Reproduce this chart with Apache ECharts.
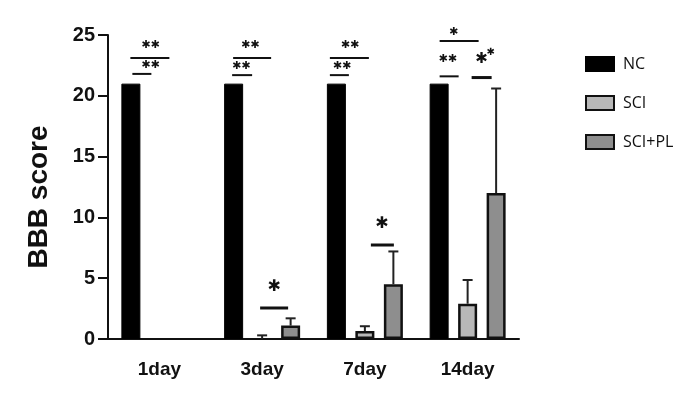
<!DOCTYPE html>
<html><head><meta charset="utf-8">
<script src="https://cdn.jsdelivr.net/npm/echarts@6/dist/echarts.min.js"></script>
<style>html,body{margin:0;padding:0;background:#fff}#c{width:700px;height:393px}</style>
</head><body><div id="c"></div>
<script>
const categories = ['1day', '3day', '7day', '14day'];
const seriesNames = ['NC', 'SCI', 'SCI+PL'];
const ncValues = [21, 21, 21, 21];
const sciValues = [0, 0, 0.65, 2.9];
const sciSd = [0, 0.3, 0.4, 1.95];
const sciplValues = [0, 1.1, 4.5, 12.0];
const sciplSd = [0, 0.6, 2.7, 8.6];
const yMin = 0, yMax = 25, yStep = 5;
// significance brackets: [categoryIndex, xOffsetStart, xOffsetEnd (px from category centre), level (data units), lineWidth]
const sigLines = [
  [0, -29, 10, 23.1, 2], [0, -27, -8, 21.8, 2],
  [1, -29, 9, 23.1, 2], [1, -30, -10, 21.7, 2], [1, -2, 26, 2.55, 3],
  [2, -35, 4, 23.1, 2], [2, -35, -16, 21.7, 2], [2, 6, 29, 7.73, 3],
  [3, -28, 11, 24.5, 2], [3, -28, -9, 21.6, 2], [3, 4, 24, 21.5, 3]
];
// significance marks: [categoryIndex, xOffset, level, text, size]
const sigTexts = [
  [0, -9, 24.2, '✱✱', 11], [0, -9, 22.5, '✱✱', 11],
  [1, -12, 24.2, '✱✱', 11], [1, -21, 22.45, '✱✱', 11], [1, 12, 4.28, '✱', 16],
  [2, -15, 24.2, '✱✱', 11], [2, -23, 22.45, '✱✱', 11], [2, 17, 9.46, '✱', 16],
  [3, -14, 25.2, '✱', 11], [3, -20, 23.0, '✱✱', 11], [3, 14, 23.0, '✱', 15], [3, 23, 23.6, '✱', 10]
];

const chart = echarts.init(document.getElementById('c'), null, {renderer: 'canvas'});
const BAR_W = 19, STEP = 28.5;

function errSeries(vals, sds, off) {
  return {
    type: 'custom',
    z: 5,
    data: categories.map((c, i) => [i, vals[i], vals[i] + sds[i]]).filter(d => d[2] > d[1]),
    renderItem: function (params, api) {
      const p0 = api.coord([api.value(0), api.value(1)]);
      const p1 = api.coord([api.value(0), api.value(2)]);
      const x = p0[0] + off;
      return {type: 'group', children: [
        {type: 'line', shape: {x1: x, y1: p0[1], x2: x, y2: p1[1]}, style: {stroke: '#222', lineWidth: 2}},
        {type: 'line', shape: {x1: x - 5, y1: p1[1], x2: x + 5, y2: p1[1]}, style: {stroke: '#222', lineWidth: 2}}
      ]};
    }
  };
}
// zero-height bars get no outline (nothing visible in the figure)
const barData = vals => vals.map(v => v === 0 ? {value: v, itemStyle: {borderWidth: 0}} : v);

const axisFont = {fontFamily: 'Liberation Sans', fontWeight: 'bold', color: '#111'};
chart.setOption({
  animation: false,
  backgroundColor: '#fff',
  grid: {left: 108, right: 181, top: 35, bottom: 54, containLabel: false, outerBoundsMode: 'none'},
  legend: {
    data: seriesNames, orient: 'vertical', left: 580, top: 51,
    itemWidth: 28, itemHeight: 14, itemGap: 23, icon: 'rect',
    textStyle: {fontFamily: 'Open Sans', fontSize: 16, color: '#111', padding: [0, 0, 0, 4]}
  },
  xAxis: {
    type: 'category', data: categories,
    axisLine: {lineStyle: {color: '#111', width: 2}},
    axisTick: {alignWithLabel: true, length: 10, lineStyle: {color: '#111', width: 2}},
    axisLabel: Object.assign({fontSize: 19, margin: 21}, axisFont)
  },
  yAxis: {
    type: 'value', min: yMin, max: yMax, interval: yStep,
    name: 'BBB score', nameLocation: 'middle', nameGap: 55,
    nameTextStyle: {fontFamily: 'Liberation Sans', fontWeight: 'bold', fontSize: 28, color: '#111', padding: [0, 20, 0, 0]},
    axisLine: {show: true, lineStyle: {color: '#111', width: 2}},
    axisTick: {show: true, length: 10, lineStyle: {color: '#111', width: 2}},
    axisLabel: Object.assign({fontSize: 20, margin: 13}, axisFont),
    splitLine: {show: false}
  },
  series: [
    {name: 'NC', type: 'bar', data: ncValues, barWidth: BAR_W, barGap: '50%',
     itemStyle: {color: '#000', borderColor: '#000', borderWidth: 1}},
    {name: 'SCI', type: 'bar', data: barData(sciValues), barWidth: BAR_W, barGap: '50%',
     itemStyle: {color: '#b8b8b8', borderColor: '#111', borderWidth: 2.5}},
    {name: 'SCI+PL', type: 'bar', data: barData(sciplValues), barWidth: BAR_W, barGap: '50%',
     itemStyle: {color: '#8e8e8e', borderColor: '#111', borderWidth: 2.5}},
    errSeries(sciValues, sciSd, 0),
    errSeries(sciplValues, sciplSd, STEP)
  ]
});

const px = (ci, v) => chart.convertToPixel({xAxisIndex: 0, yAxisIndex: 0}, [ci, v]);
const graphics = [];
sigLines.forEach(([ci, a, b, v, w]) => {
  const p = px(ci, v);
  graphics.push({type: 'line', z: 10, shape: {x1: p[0] + a, y1: p[1], x2: p[0] + b, y2: p[1]}, style: {stroke: '#111', lineWidth: w}});
});
sigTexts.forEach(([ci, o, v, t, s]) => {
  const p = px(ci, v);
  graphics.push({type: 'text', z: 10, x: p[0] + o, y: p[1],
    style: {text: t, align: 'center', verticalAlign: 'middle', fill: '#111', font: 'bold ' + s + 'px DejaVu Sans'}});
});
chart.setOption({graphic: graphics});
</script></body></html>
